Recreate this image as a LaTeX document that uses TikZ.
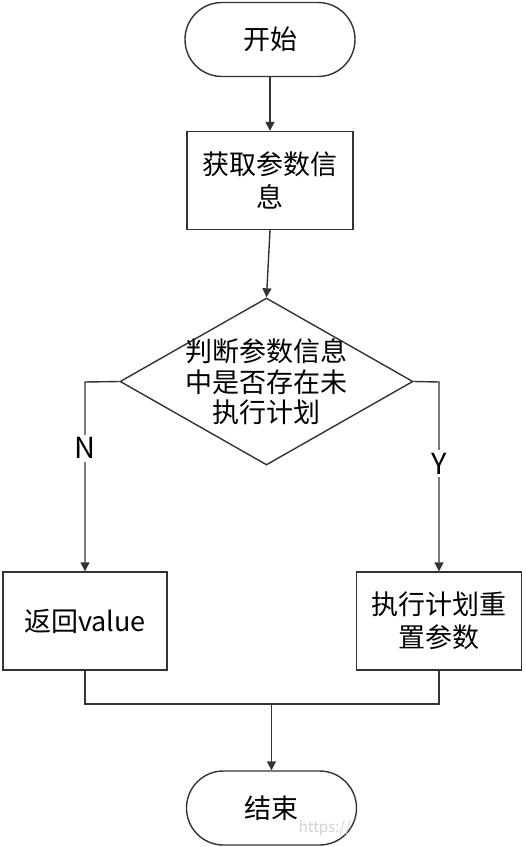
\documentclass[tikz,border=0pt]{standalone}
\usepackage{fontspec}
\setmainfont{Noto Sans CJK SC}
\usetikzlibrary{shapes.geometric,arrows.meta}
\definecolor{ln}{HTML}{333333}
\tikzset{
  base/.style={draw=ln, line width=1.4pt, text=black, inner sep=0pt, align=center,
    font=\fontsize{27}{33}\selectfont},
  term/.style={base, minimum width=170pt, minimum height=74pt, rounded corners=36.9pt},
  proc/.style={base, rectangle, minimum width=165pt, minimum height=98pt},
  dec/.style={base, diamond, minimum width=293pt, minimum height=167pt},
  txt/.style={inner sep=0pt, align=center, font=\fontsize{27}{30.5}\selectfont},
  conn/.style={draw=ln, line width=1.4pt},
  arr/.style={conn, -{Triangle[length=9pt,width=9pt]}},
  lab/.style={fill=white, inner sep=3pt, font=\fontsize{29}{32}\selectfont}
}
\begin{document}
\begin{tikzpicture}[x=1pt,y=-1pt]
\useasboundingbox (0,0) rectangle (526,847);
\node[term] (start) at (270,39.5) {开始};
\node[proc, minimum width=166pt] (get) at (270,180.5) {获取参数信\\息};
\node[dec] (dec) at (266.5,381.5) {};
\node[txt] (dectext) at (266.5,382) {判断参数信息\\中是否存在未\\执行计划};
\node[proc, minimum width=164pt] (ret) at (85,621) {返回value};
\node[proc] (reset) at (439,621) {执行计划重\\置参数};
\node[term] (end) at (271.5,808) {结束};
\coordinate (nl) at (85,382);
\coordinate (yr) at (439,382);
\coordinate (ml) at (85,704);
\coordinate (mr) at (439,704);
\coordinate (mc) at (271.5,704);

\draw[arr] (start) -- (get);
\draw[arr] (get.south) -- (dec.north);
\draw[arr] (dec.west) -- (nl) -- node[lab, pos=0.35] (nlab) {N} (ret.north);
\draw[arr] (dec.east) -- (yr) -- node[lab, pos=0.43] (ylab) {Y} (reset.north);
\draw[conn] (ret.south) -- (ml) -- (mr) -- (reset.south);
\draw[arr] (mc) -- (end.north);
\node[text=black!18, font=\fontsize{15}{18}\selectfont] (wm) at (325,828) {https://};
\end{tikzpicture}
\end{document}
